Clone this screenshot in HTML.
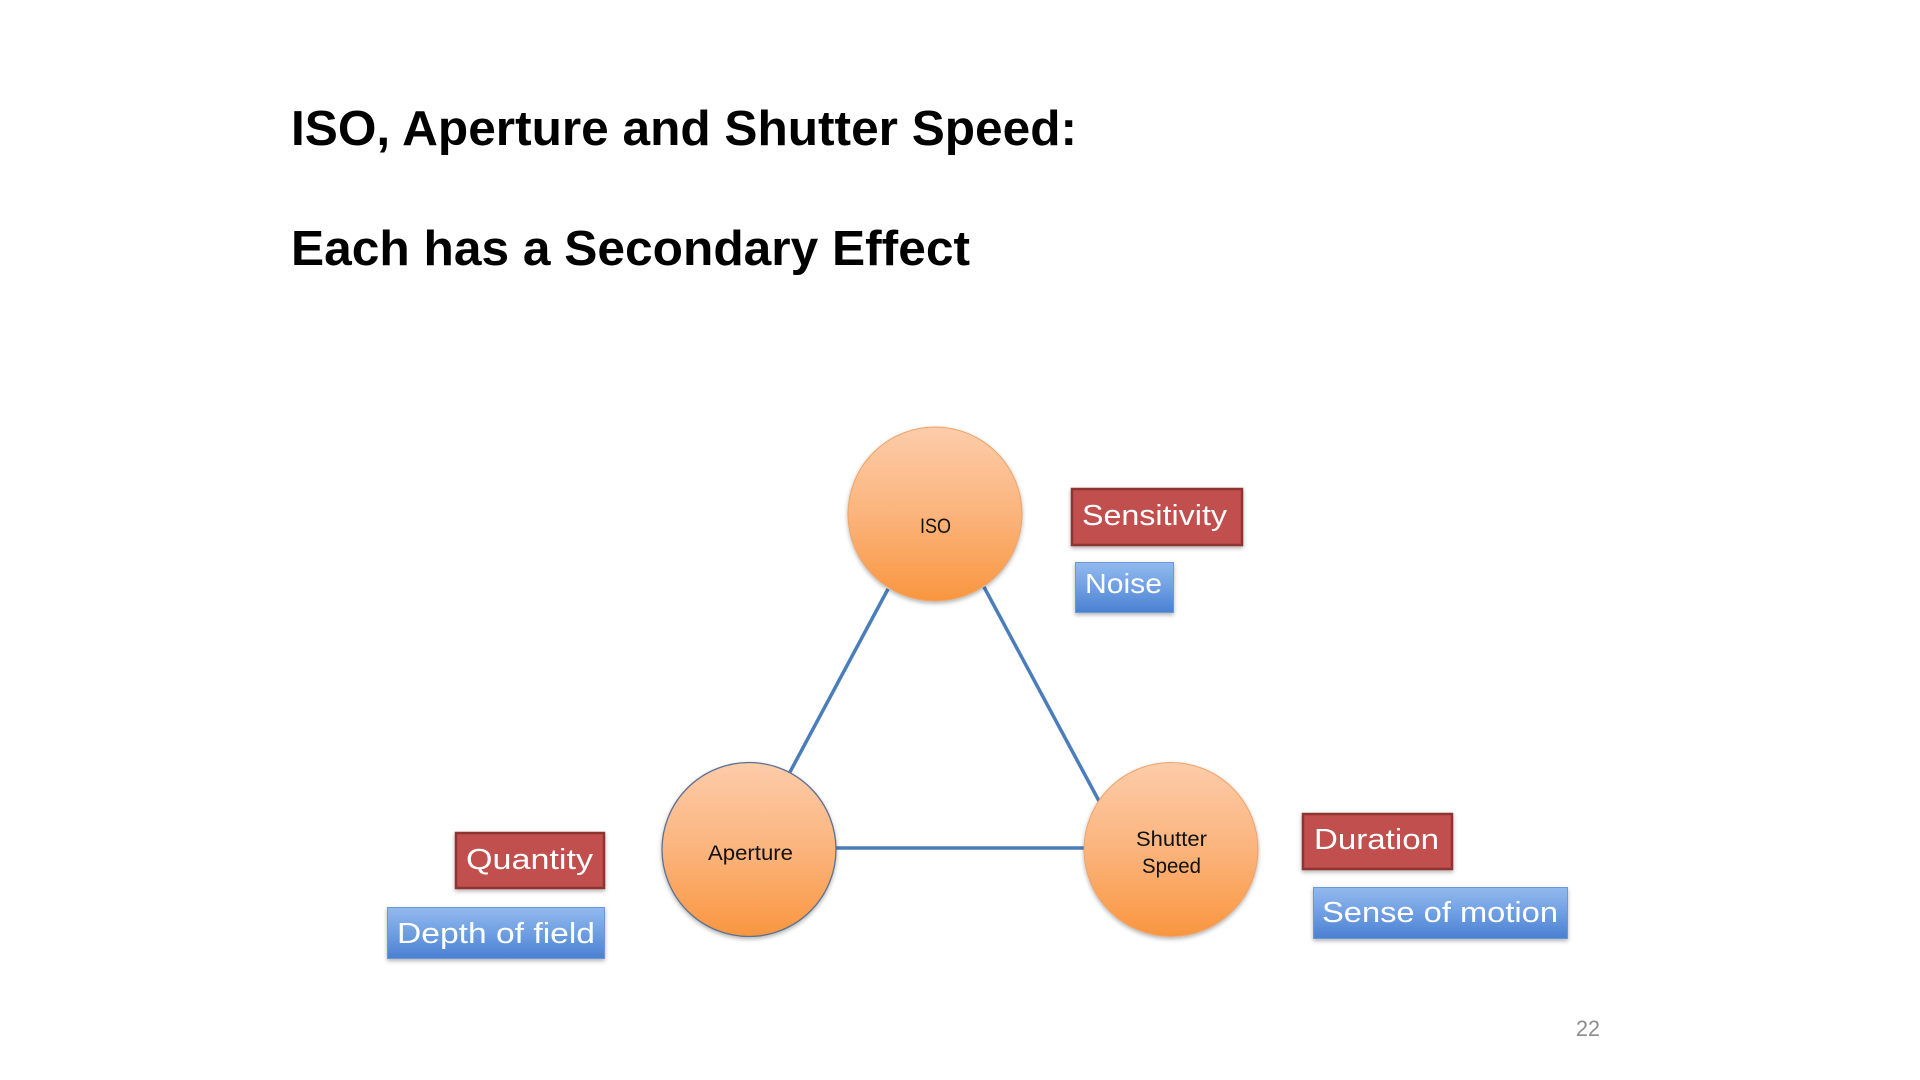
<!DOCTYPE html>
<html>
<head>
<meta charset="utf-8">
<style>
  html, body { margin: 0; padding: 0; background: #ffffff; }
  body { width: 1920px; height: 1080px; overflow: hidden; }
  svg { display: block; }
</style>
</head>
<body>
<svg width="1920" height="1080" viewBox="0 0 1920 1080" xmlns="http://www.w3.org/2000/svg">
  <defs>
    <linearGradient id="orange" x1="0" y1="0" x2="0" y2="1">
      <stop offset="0" stop-color="#fcccaa"/>
      <stop offset="0.5" stop-color="#fbb47c"/>
      <stop offset="1" stop-color="#f9963f"/>
    </linearGradient>
    <linearGradient id="blue" x1="0" y1="0" x2="0" y2="1">
      <stop offset="0" stop-color="#92b9ee"/>
      <stop offset="0.5" stop-color="#6f9fe2"/>
      <stop offset="1" stop-color="#4a80d2"/>
    </linearGradient>
    <filter id="sh" x="-20%" y="-20%" width="140%" height="150%">
      <feDropShadow dx="0" dy="2" stdDeviation="2" flood-color="#000" flood-opacity="0.3"/>
    </filter>
  </defs>

  <rect width="1920" height="1080" fill="#ffffff"/>

  <!-- Title -->
  <text x="291" y="145" font-family="'Liberation Sans', Arial, sans-serif" font-weight="bold" font-size="49.5" fill="#000" textLength="786" lengthAdjust="spacingAndGlyphs">ISO, Aperture and Shutter Speed:</text>
  <text x="291" y="265" font-family="'Liberation Sans', Arial, sans-serif" font-weight="bold" font-size="49.5" fill="#000" textLength="679" lengthAdjust="spacingAndGlyphs">Each has a Secondary Effect</text>

  <!-- Connectors -->
  <g stroke="#4a7ebb" stroke-width="3.5" fill="none" stroke-linecap="butt">
    <line x1="888" y1="589" x2="790" y2="772"/>
    <line x1="984" y1="587" x2="1099" y2="801"/>
    <line x1="835" y1="848" x2="1084" y2="848"/>
  </g>

  <!-- Circles -->
  <g filter="url(#sh)">
    <circle cx="935" cy="514" r="87" fill="url(#orange)" stroke="#eea46a" stroke-width="1"/>
    <circle cx="749" cy="849.5" r="87" fill="url(#orange)" stroke="#5d7090" stroke-width="1.3"/>
    <circle cx="1171" cy="849.5" r="87" fill="url(#orange)" stroke="#eea46a" stroke-width="1"/>
  </g>

  <g font-family="'Liberation Sans', Arial, sans-serif" font-size="21" fill="#111">
    <text x="920" y="533" textLength="31" lengthAdjust="spacingAndGlyphs">ISO</text>
    <text x="708" y="860" textLength="85" lengthAdjust="spacingAndGlyphs">Aperture</text>
    <text x="1136" y="846" textLength="71" lengthAdjust="spacingAndGlyphs">Shutter</text>
    <text x="1142" y="873" textLength="59" lengthAdjust="spacingAndGlyphs">Speed</text>
  </g>

  <!-- Red boxes -->
  <g filter="url(#sh)" fill="#c0504d" stroke="#8e3532" stroke-width="2.5">
    <rect x="1072" y="489" width="170" height="56"/>
    <rect x="456" y="833" width="148" height="55"/>
    <rect x="1303" y="814" width="149" height="55"/>
  </g>

  <!-- Blue boxes -->
  <g filter="url(#sh)" fill="url(#blue)" stroke="#6b98d8" stroke-width="1">
    <rect x="1075.5" y="562.5" width="98" height="50"/>
    <rect x="387.5" y="907.5" width="217" height="51"/>
    <rect x="1313.5" y="887.5" width="254" height="51"/>
  </g>

  <!-- Box labels -->
  <g font-family="'Liberation Sans', Arial, sans-serif" font-size="29" fill="#ffffff">
    <text x="1082" y="525" textLength="145" lengthAdjust="spacingAndGlyphs">Sensitivity</text>
    <text x="1085" y="593" font-size="28" textLength="77" lengthAdjust="spacingAndGlyphs">Noise</text>
    <text x="466" y="869" textLength="127" lengthAdjust="spacingAndGlyphs">Quantity</text>
    <text x="397" y="943" textLength="198" lengthAdjust="spacingAndGlyphs">Depth of field</text>
    <text x="1314" y="849" textLength="125" lengthAdjust="spacingAndGlyphs">Duration</text>
    <text x="1322" y="922" textLength="236" lengthAdjust="spacingAndGlyphs">Sense of motion</text>
  </g>

  <!-- Page number -->
  <text x="1576" y="1036" font-family="'Liberation Sans', Arial, sans-serif" font-size="22" fill="#8c8c8c" textLength="24" lengthAdjust="spacingAndGlyphs">22</text>
</svg>
</body>
</html>
